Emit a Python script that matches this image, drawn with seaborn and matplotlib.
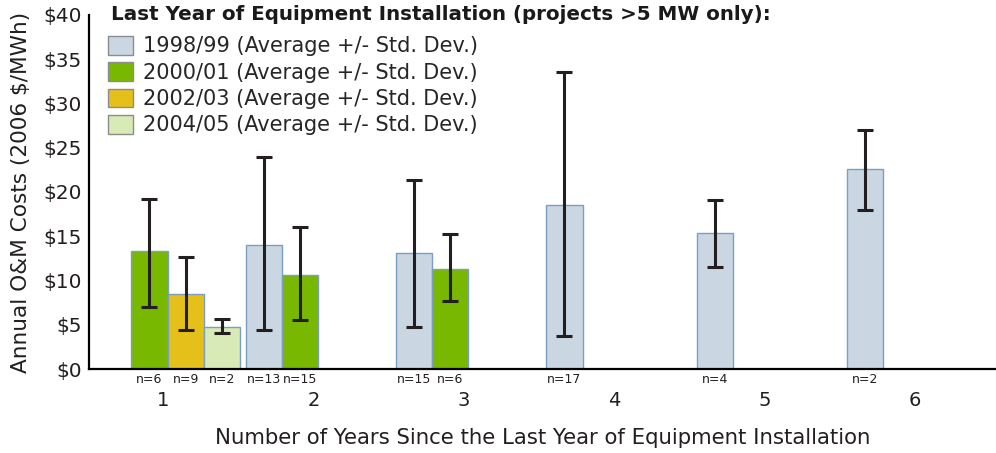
import numpy as np
import pandas as pd
import matplotlib
matplotlib.use("Agg")
import matplotlib.pyplot as plt
import seaborn as sns
from matplotlib.patches import Patch

# values
years = ["1", "1", "1", "2", "2", "3", "3", "4", "5", "6"]
periods = ["2000/01", "2002/03", "2004/05", "1998/99", "2000/01",
           "1998/99", "2000/01", "1998/99", "1998/99", "1998/99"]
means = [13.3, 8.45, 4.7, 14.05, 10.6, 13.1, 11.3, 18.5, 15.4, 22.6]
err_low = [7.0, 4.4, 4.05, 4.4, 5.5, 4.75, 7.65, 3.7, 11.5, 18.0]
err_high = [19.2, 12.6, 5.6, 24.0, 16.0, 21.3, 15.3, 33.5, 19.15, 27.0]
counts = [6, 9, 2, 13, 15, 15, 6, 17, 4, 2]

year_order = ["1", "2", "3", "4", "5", "6"]
period_order = ["1998/99", "2000/01", "2002/03", "2004/05"]
colors = {"1998/99": "#CAD7E2", "2000/01": "#78B800",
          "2002/03": "#E6C01A", "2004/05": "#D8EAB6"}

df = pd.DataFrame({"year": years, "period": periods, "mean": means,
                   "lo": err_low, "hi": err_high, "n": counts})

sns.set_style("white")
plt.rcParams["font.family"] = ["DejaVu Sans"]

fig = plt.figure(figsize=(9.96, 4.53), dpi=100)
ax = fig.add_axes([0.0894, 0.1854, 0.9106, 0.7816])

sns.barplot(data=df, x="year", y="mean", hue="period", order=year_order,
            hue_order=period_order, palette=colors, saturation=1,
            width=0.96, errorbar=None, edgecolor="#7C9EC0", linewidth=1,
            legend=False, ax=ax)

# error bars and n= labels on each bar
for container, period in zip(ax.containers, period_order):
    sub = df[df["period"] == period].sort_values("year")
    for bar, (_, row) in zip(container, sub.iterrows()):
        cx = bar.get_x() + bar.get_width() / 2
        h = bar.get_height()
        ax.errorbar(cx, h, yerr=[[h - row["lo"]], [row["hi"] - h]],
                    color="#231F20", lw=2.2, capsize=5.5, capthick=2.2, zorder=5)
        ax.annotate(f"n={row['n']}", xy=(cx, 0), xytext=(0, -3),
                    textcoords="offset points", ha="center", va="top",
                    fontsize=9, color="#231F20")

ax.set_ylim(0, 40)
ax.set_xlim(-0.522, 5.51)
yt = np.arange(0, 41, 5)
ax.set_yticks(yt)
ax.set_yticklabels([f"${v}" for v in yt], fontsize=14.5, color="#231F20")
ax.set_xticks(np.arange(6) - 0.03)
ax.set_xticklabels(year_order, fontsize=14, color="#231F20")
ax.tick_params(axis="x", length=0, pad=16)
ax.tick_params(axis="y", length=0, pad=5)

for side in ["top", "right"]:
    ax.spines[side].set_visible(False)
for side in ["left", "bottom"]:
    ax.spines[side].set_color("black")
    ax.spines[side].set_linewidth(1.6)

ax.set_xlabel("Number of Years Since the Last Year of Equipment Installation",
              fontsize=15.3, labelpad=13, color="#231F20")
ax.set_ylabel("Annual O&M Costs (2006 $/MWh)", fontsize=15.6,
              color="#231F20")
ax.yaxis.set_label_coords(-0.064, 0.5)

fig.text(111 / 996, 1 - 15 / 453,
         "Last Year of Equipment Installation (projects >5 MW only):",
         fontsize=14.35, fontweight="bold", va="center", ha="left",
         color="#1A1A1A")

handles = [Patch(facecolor=colors[p], edgecolor="#8C8C8C",
                 label=f"{p} (Average +/- Std. Dev.)") for p in period_order]
ax.legend(handles=handles, loc="upper left",
          bbox_to_anchor=(108 / 996, 1 - 36 / 453),
          bbox_transform=fig.transFigure, frameon=False, fontsize=15,
          handlelength=1.2, handleheight=1.0, handletextpad=0.5,
          labelspacing=0.28, borderpad=0, borderaxespad=0)

fig.savefig("out.png", dpi=100)
